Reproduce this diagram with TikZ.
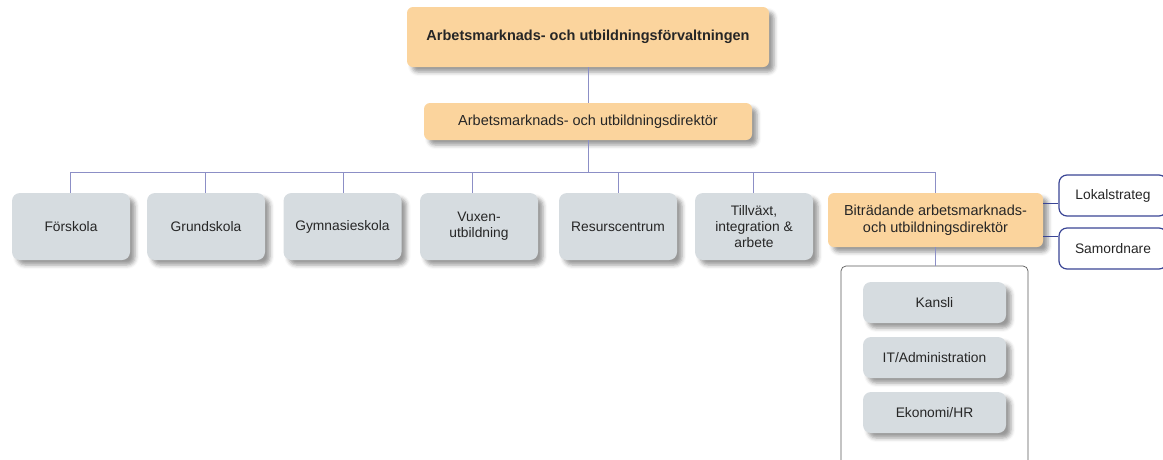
\documentclass[tikz,border=0pt]{standalone}
\usepackage{fontspec}
\setmainfont{Liberation Sans}
\usetikzlibrary{shadows.blur}
\definecolor{orangefill}{HTML}{FBD49D}
\definecolor{grayfill}{HTML}{D6DCE0}
\definecolor{linecol}{HTML}{8C8FC6}
\definecolor{bluebord}{HTML}{3A4595}
\definecolor{txt}{HTML}{262626}
\tikzset{
  shad/.style={blur shadow={shadow xshift=5pt, shadow yshift=-5pt, shadow blur radius=4pt, shadow opacity=40}},
  obox/.style={shad, fill=orangefill, rounded corners=6pt, align=center, text=txt, inner sep=0pt, font=\fontsize{14.5}{16.5}\selectfont},
  gbox/.style={shad, fill=grayfill, rounded corners=8pt, align=center, text=txt, inner sep=0pt, minimum width=118pt, minimum height=67pt, font=\fontsize{13.8}{16}\selectfont},
  sbox/.style={shad, fill=grayfill, rounded corners=8pt, align=center, text=txt, inner sep=0pt, minimum width=143pt, minimum height=41pt, font=\fontsize{13.8}{16}\selectfont},
  wbox/.style={draw=bluebord, line width=1.2pt, fill=white, rounded corners=8pt, align=center, text=txt, inner sep=0pt, minimum width=108pt, minimum height=41pt, font=\fontsize{13.8}{16}\selectfont},
  conn/.style={draw=linecol, line width=0.9pt},
}
\begin{document}
\begin{tikzpicture}[x=1pt,y=-1pt]
\useasboundingbox (0,0) rectangle (1163,459);
\clip (0,0) rectangle (1163,459);
% container
\node[draw=black!65, line width=0.7pt, rounded corners=5pt, minimum width=187pt, minimum height=204pt, inner sep=0pt] (cont) at (934.5,368) {};
% top
\node[obox, minimum width=362pt, minimum height=60pt, font=\fontsize{14.5}{16.5}\selectfont\bfseries] (top) at (588,37) {Arbetsmarknads- och utbildningsförvaltningen};
\node[obox, minimum width=328pt, minimum height=37pt] (dir) at (588,121.5) {Arbetsmarknads- och utbildningsdirektör};
% bus
\coordinate (b0) at (588,172);
\coordinate (bl) at (70,172);
\coordinate (br) at (935,172);
\draw[conn] (top.south) -- (dir.north);
\draw[conn] (dir.south) -- (b0);
\draw[conn] (bl) -- (br);
% gray boxes
\node[gbox] (fors) at (71,226.5) {Förskola};
\node[gbox] (grund) at (206,226.5) {Grundskola};
\node[gbox] (gymn) at (342.5,226.5) {Gymnasieskola};
\node[gbox] (vux) at (479,226.5) {Vuxen-\\utbildning};
\node[gbox] (res) at (618,226.5) {Resurscentrum};
\node[gbox] (till) at (754,226.5) {Tillväxt,\\integration \&\\arbete};
\node[obox, minimum width=215pt, minimum height=54pt] (bit) at (935.5,220) {Biträdande arbetsmarknads-\\och utbildningsdirektör};
\coordinate (d1) at (70,172);
\coordinate (d2) at (205,172);
\coordinate (d3) at (343,172);
\coordinate (d4) at (472,172);
\coordinate (d5) at (618,172);
\coordinate (d6) at (753,172);
\draw[conn] (d1) -- (d1 |- fors.north);
\draw[conn] (d2) -- (d2 |- grund.north);
\draw[conn] (d3) -- (d3 |- gymn.north);
\draw[conn] (d4) -- (d4 |- vux.north);
\draw[conn] (d5) -- (d5 |- res.north);
\draw[conn] (d6) -- (d6 |- till.north);
\draw[conn] (br) -- (br |- bit.north);
% side boxes
\node[wbox] (lok) at (1113,195.5) {Lokalstrateg};
\node[wbox] (sam) at (1113,248.5) {Samordnare};
\coordinate (e1) at (1043,203);
\coordinate (e2) at (1043,236);
\draw[draw=bluebord, line width=1pt] (e1) -- (e1 -| lok.west);
\draw[draw=bluebord, line width=1pt] (e2) -- (e2 -| sam.west);
% down to container
\draw[conn] (bit.south -| br) -- (br |- cont.north);
% inner boxes
\node[sbox] (kan) at (934.5,302.5) {Kansli};
\node[sbox] (it) at (934.5,357.5) {IT/Administration};
\node[sbox] (eko) at (934.5,412.5) {Ekonomi/HR};
\end{tikzpicture}
\end{document}
